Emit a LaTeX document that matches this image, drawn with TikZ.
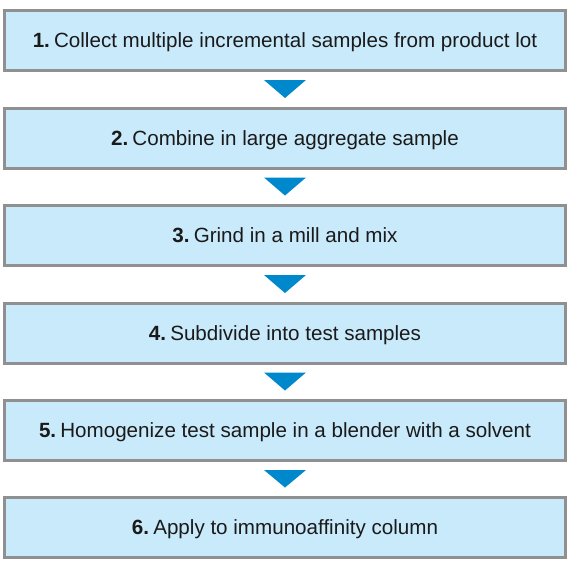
\documentclass[tikz,border=0pt]{standalone}
\usepackage{fontspec}
\setmainfont{Liberation Sans}
\usetikzlibrary{calc}
\definecolor{boxfill}{HTML}{C9EAFB}
\definecolor{boxline}{HTML}{909090}
\definecolor{arrowblue}{HTML}{0088CC}
\definecolor{txt}{HTML}{1A1A1A}
\begin{document}
\begin{tikzpicture}[x=1pt,y=-1pt,
  stepbox/.style={draw=boxline,line width=3pt,fill=boxfill,minimum width=561pt,minimum height=60pt,inner sep=0pt,text height=14.7pt,text depth=0pt,text=txt,font=\fontsize{20.6}{24}\selectfont},
  tri/.style={fill=arrowblue}]
\useasboundingbox (0,0) rectangle (570,574);
\node[stepbox] (s1) at (285,40.5) {\textbf{1.}\hspace{0.2em}Collect multiple incremental samples from product lot};
\node[stepbox] (s2) at (285,138) {\textbf{2.}\hspace{0.2em}Combine in large aggregate sample};
\node[stepbox] (s3) at (285,235.5) {\textbf{3.}\hspace{0.2em}Grind in a mill and mix};
\node[stepbox] (s4) at (285,333) {\textbf{4.}\hspace{0.2em}Subdivide into test samples};
\node[stepbox] (s5) at (285,430.5) {\textbf{5.}\hspace{0.2em}Homogenize test sample in a blender with a solvent};
\node[stepbox] (s6) at (285,527.5) {\textbf{6.}\hspace{0.2em}Apply to immunoaffinity column};
\foreach \a/\b in {s1/s2,s2/s3,s3/s4,s4/s5,s5/s6}{
  \path[tri] ($(\a.south)+(-21,8)$) -- ($(\a.south)+(21,8)$) -- ($(\b.north)+(0,-8.5)$) -- cycle;
}
\end{tikzpicture}
\end{document}
